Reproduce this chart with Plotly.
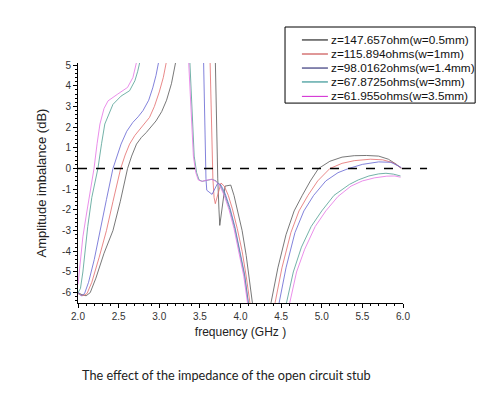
import plotly.graph_objects as go

# ---------------- data ----------------
names = [
    "z=147.657ohm(w=0.5mm)",
    "z=115.894ohms(w=1mm)",
    "z=98.0162ohms(w=1.4mm)",
    "z=67.8725ohms(w=3mm)",
    "z=61.955ohms(w=3.5mm)",
]
line_colors = ["#555555", "#e36b6b", "#6262d2", "#4f9e92", "#e471e4"]
legend_colors = ["#000000", "#c03030", "#101060", "#108080", "#d020d0"]

# black : z=147.657 ohm
f_black = [2.0, 2.05, 2.1, 2.15, 2.22, 2.32, 2.43, 2.52, 2.61, 2.66, 2.72, 2.78, 2.84, 2.9, 2.96, 3.03, 3.09, 3.15, 3.21,
           None,
           3.69, 3.705, 3.72, 3.735, 3.745, 3.81, 3.88, 3.92, 3.97, 4.02, 4.07, 4.11, 4.15,
           None,
           4.37, 4.46, 4.56, 4.66, 4.76, 4.86, 4.96, 5.1, 5.25, 5.4, 5.55, 5.7, 5.82, 5.92, 5.98]
a_black = [-6.0, -6.1, -6.15, -6.0, -5.3, -4.1, -3.0, -1.6, 0.0, 0.6, 1.18, 1.5, 1.74, 2.0, 2.3, 2.75, 3.3, 4.1, 5.3,
           None,
           5.3, 2.0, -0.5, -2.0, -2.75, -0.85, -0.8, -1.3, -2.1, -3.0, -4.2, -5.3, -6.6,
           None,
           -6.6, -4.8, -3.2, -2.05, -1.3, -0.6, 0.0, 0.35, 0.55, 0.62, 0.63, 0.6, 0.45, 0.2, 0.0]

# red : z=115.894 ohms
f_red = [2.0, 2.06, 2.11, 2.17, 2.26, 2.35, 2.43, 2.525, 2.58, 2.635, 2.7, 2.76, 2.82, 2.88, 2.94, 3.0, 3.05, 3.095,
         None,
         3.625, 3.64, 3.66, 3.675, 3.69, 3.76, 3.8, 3.85, 3.9, 3.96, 4.02, 4.07, 4.12,
         None,
         4.42, 4.51, 4.62, 4.72, 4.83, 4.95, 5.1, 5.25, 5.4, 5.6, 5.75, 5.88, 5.98]
a_red = [-6.05, -6.15, -6.05, -5.5, -4.3, -3.0, -1.6, 0.0, 0.65, 1.18, 1.6, 1.9, 2.15, 2.47, 3.0, 3.7, 4.4, 5.3,
         None,
         5.3, 2.0, -0.5, -1.4, -1.7, -0.7, -0.85, -1.3, -1.95, -2.9, -4.0, -5.2, -6.6,
         None,
         -6.6, -4.8, -3.1, -2.05, -1.3, -0.6, 0.0, 0.25, 0.38, 0.45, 0.42, 0.28, 0.02]

# blue : z=98.0162 ohms
f_blue = [2.0, 2.04, 2.08, 2.13, 2.2, 2.27, 2.35, 2.43, 2.48, 2.53, 2.6, 2.675, 2.74, 2.8, 2.87, 2.92, 2.96, 3.0,
          None,
          3.545, 3.56, 3.575, 3.585, 3.65, 3.72, 3.76, 3.81, 3.87, 3.93, 3.99, 4.05, 4.1,
          None,
          4.47, 4.56, 4.67, 4.78, 4.9, 5.05, 5.2, 5.33, 5.5, 5.7, 5.85, 5.98]
a_blue = [-6.0, -6.15, -6.05, -5.5, -4.4, -3.0, -1.5, 0.0, 0.6, 1.18, 1.8, 2.23, 2.5, 2.8, 3.3, 3.9, 4.5, 5.3,
          None,
          5.3, 2.0, -0.5, -1.05, -1.25, -0.7, -0.8, -1.2, -1.9, -2.8, -3.9, -5.1, -6.6,
          None,
          -6.6, -4.8, -3.1, -2.05, -1.3, -0.6, -0.2, 0.0, 0.2, 0.32, 0.3, 0.05]

# teal : z=67.8725 ohms
f_teal = [2.0, 2.03, 2.06, 2.09, 2.12, 2.17, 2.245, 2.29, 2.33, 2.43, 2.53, 2.635, 2.7, 2.735, 2.77,
          None,
          3.375, 3.4, 3.43, 3.46, 3.49, 3.53, 3.59, 3.65, 3.7, 3.75, 3.81, 3.87, 3.93, 3.99, 4.05, 4.1,
          None,
          4.56, 4.65, 4.75, 4.87, 5.0, 5.15, 5.34, 5.45, 5.58, 5.7, 5.79, 5.88, 5.97]
a_teal = [-6.0, -5.8, -5.0, -3.9, -2.8, -1.4, 0.0, 1.2, 2.15, 3.1, 3.5, 3.76, 4.24, 4.7, 5.3,
          None,
          5.3, 3.0, 0.6, -0.2, -0.55, -0.62, -0.57, -0.52, -0.6, -0.8, -1.3, -2.0, -2.9, -4.0, -5.2, -6.6,
          None,
          -6.6, -5.0, -3.8, -2.8, -2.05, -1.3, -0.77, -0.55, -0.36, -0.26, -0.23, -0.27, -0.36]

# magenta : z=61.955 ohms
f_mag = [2.0, 2.03, 2.06, 2.1, 2.15, 2.197, 2.235, 2.27, 2.32, 2.37, 2.49, 2.61, 2.676, 2.7, 2.73,
         None,
         3.36, 3.39, 3.42, 3.45, 3.48, 3.52, 3.58, 3.64, 3.69, 3.74, 3.8, 3.86, 3.92, 3.98, 4.04, 4.09,
         None,
         4.6, 4.69, 4.79, 4.92, 5.05, 5.2, 5.36, 5.5, 5.65, 5.8, 5.9, 5.97]
a_mag = [-5.6, -4.6, -3.3, -2.3, -1.1, 0.0, 1.2, 2.15, 2.9, 3.27, 3.6, 3.92, 4.4, 4.8, 5.3,
         None,
         5.3, 3.0, 0.6, -0.2, -0.55, -0.62, -0.57, -0.52, -0.6, -0.8, -1.3, -2.0, -2.9, -4.0, -5.2, -6.6,
         None,
         -6.6, -5.0, -3.9, -2.8, -2.05, -1.35, -0.85, -0.6, -0.45, -0.37, -0.36, -0.42]

series_f = [f_black, f_red, f_blue, f_teal, f_mag]
series_a = [a_black, a_red, a_blue, a_teal, a_mag]

x_ticks = [2.0, 2.5, 3.0, 3.5, 4.0, 4.5, 5.0, 5.5, 6.0]
x_ticklabels = ["2.0", "2.5", "3.0", "3.5", "4.0", "4.5", "5.0", "5.5", "6.0"]
y_ticks = [-6, -5, -4, -3, -2, -1, 0, 1, 2, 3, 4, 5]
y_ticklabels = ["-6", "-5", "-4", "-3", "-2", "-1", "0", "1", "2", "3", "4", "5"]

caption = "The effect of the impedance of the open circuit stub"
x_title = "frequency (GHz )"
y_title = "Amplitude imbalance (dB)"

# ---------------- figure ----------------
fig = go.Figure()
for name, fx, ay, col in zip(names, series_f, series_a, line_colors):
    fig.add_trace(go.Scatter(x=fx, y=ay, mode="lines", name=name,
                             line=dict(color=col, width=0.8),
                             connectgaps=False, showlegend=False))

axis_font = dict(family="Liberation Sans, Arial, sans-serif", size=10, color="#333333")

fig.update_layout(
    width=489, height=387,
    margin=dict(l=70, r=94, t=55, b=92),
    paper_bgcolor="white", plot_bgcolor="white",
    showlegend=False,
    xaxis=dict(range=[2, 6], tickvals=x_ticks, ticktext=x_ticklabels,
               showline=True, linecolor="#000000", linewidth=1,
               ticks="outside", ticklen=4, tickcolor="#000000",
               minor=dict(ticks="outside", ticklen=2, dtick=0.1, tickcolor="#000000"),
               showgrid=False, zeroline=False, tickfont=axis_font,
               title=dict(text=x_title, standoff=6,
                          font=dict(family="Liberation Sans, Arial, sans-serif", size=12, color="#222222"))),
    yaxis=dict(range=[-6.5, 5.1], tickvals=y_ticks, ticktext=y_ticklabels,
               showline=True, linecolor="#000000", linewidth=1,
               ticks="outside", ticklen=4, tickcolor="#000000",
               minor=dict(ticks="outside", ticklen=2, dtick=0.2, tickcolor="#000000"),
               showgrid=False, zeroline=False, tickfont=axis_font,
               title=dict(text=y_title, standoff=12,
                          font=dict(family="Liberation Sans, Arial, sans-serif", size=13, color="#222222"))),
)

# dashed zero reference line (extends slightly past the axis end)
fig.add_shape(type="line", xref="paper", yref="y", x0=0, x1=1.074, y0=0, y1=0,
              line=dict(color="#000000", width=1.3, dash="dash"))

# legend box drawn manually (to match compact row spacing)
fig.add_shape(type="rect", xref="paper", yref="paper", x0=0.637, x1=1.222, y0=0.833, y1=1.150,
              line=dict(color="#000000", width=1), fillcolor="white")
row_y = [1.096, 1.0375, 0.979, 0.921, 0.861]
for name, col, yy in zip(names, legend_colors, row_y):
    fig.add_shape(type="line", xref="paper", yref="paper", x0=0.689, x1=0.769, y0=yy, y1=yy,
                  line=dict(color=col, width=1))
    fig.add_annotation(xref="paper", yref="paper", x=0.772, y=yy, text=name, showarrow=False,
                       xanchor="left", yanchor="middle",
                       font=dict(family="Liberation Sans, Arial, sans-serif", size=11.8, color="#111111"))

fig.add_annotation(xref="paper", yref="paper", x=0.006, y=-0.30, text=caption, showarrow=False,
                   xanchor="left", yanchor="middle",
                   font=dict(family="Lato, Noto Sans, sans-serif", size=12.7, color="#222222"))

fig.write_html("out.html")
